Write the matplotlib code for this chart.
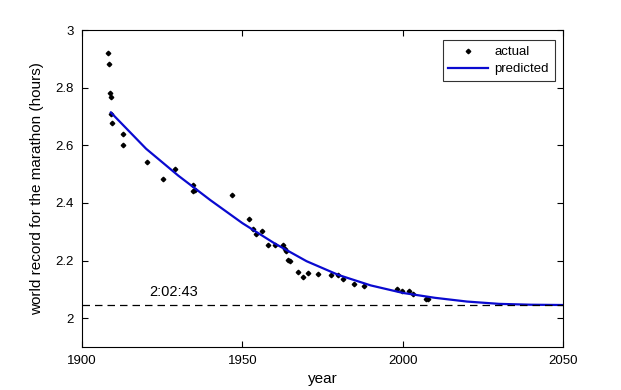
import matplotlib
matplotlib.use('Agg')
import matplotlib.pyplot as plt

plt.rcParams['font.family'] = ['Liberation Sans', 'DejaVu Sans']

# actual world records (year, hours)
record_years = [1908.2, 1908.5, 1908.8, 1909.1, 1909.0, 1909.5, 1912.9, 1912.9,
                1920.4, 1925.4, 1929.0, 1934.7, 1934.7, 1935.2, 1946.9, 1952.2,
                1953.4, 1954.1, 1956.2, 1958.1, 1960.2, 1962.8, 1963.3, 1963.6,
                1964.3, 1964.9, 1967.4, 1969.0, 1970.4, 1973.7, 1977.6, 1979.7,
                1981.5, 1984.9, 1988.0, 1998.3, 1999.7, 2002.0, 2003.3, 2007.3,
                2008.0]
record_hours = [2.922, 2.881, 2.783, 2.768, 2.708, 2.677, 2.639, 2.601,
                2.542, 2.484, 2.518, 2.464, 2.440, 2.446, 2.427, 2.344,
                2.310, 2.293, 2.303, 2.254, 2.254, 2.254, 2.239, 2.233,
                2.203, 2.200, 2.162, 2.144, 2.158, 2.155, 2.151, 2.151,
                2.137, 2.120, 2.112, 2.103, 2.095, 2.096, 2.083, 2.068,
                2.068]

# predicted curve
pred_years = [1909, 1920, 1930, 1940, 1950, 1960, 1970, 1980, 1990, 2000,
              2010, 2020, 2030, 2040, 2050]
pred_hours = [2.714, 2.588, 2.495, 2.410, 2.330, 2.260, 2.198, 2.150, 2.114,
              2.088, 2.071, 2.058, 2.050, 2.047, 2.046]

limit_hours = 2 + 2 / 60 + 43 / 3600  # 2:02:43
limit_label = '2:02:43'

xticks = [1900, 1950, 2000, 2050]
yticks = [2, 2.2, 2.4, 2.6, 2.8, 3]
ytick_labels = ['2', '2.2', '2.4', '2.6', '2.8', '3']

fig = plt.figure(figsize=(6.21, 3.90), dpi=100)
ax = fig.add_axes([0.132, 0.110, 0.775, 0.813])

ax.plot(record_years, record_hours, linestyle='none', marker='D', markersize=2.3,
        color='black', label='actual')
ax.plot(pred_years, pred_hours, color='#0a0ad0', linewidth=1.6, label='predicted')
ax.plot([1900, 2050], [limit_hours, limit_hours], color='black', linewidth=0.9,
        dashes=(6, 4))
ax.text(1921, limit_hours + 0.022, limit_label, fontsize=10.5, ha='left', va='bottom')

ax.set_xlim(1900, 2050)
ax.set_ylim(1.9, 3)
ax.set_xticks(xticks)
ax.set_yticks(yticks)
ax.set_yticklabels(ytick_labels)
ax.tick_params(direction='in', top=True, right=True, labelsize=9.5, length=4,
               width=0.8, pad=6)
for s in ax.spines.values():
  s.set_linewidth(0.8)

ax.set_xlabel('year', fontsize=11, labelpad=3)
ax.set_ylabel('world record for the marathon (hours)', fontsize=11, labelpad=8)

leg = ax.legend(loc='upper right', bbox_to_anchor=(0.983, 0.968), borderaxespad=0,
                fontsize=9.5, frameon=True, fancybox=False, edgecolor='black',
                handlelength=3.0, handletextpad=0.5, borderpad=0.45,
                labelspacing=0.35)
leg.get_frame().set_linewidth(0.8)

fig.savefig('out.png', dpi=100)
